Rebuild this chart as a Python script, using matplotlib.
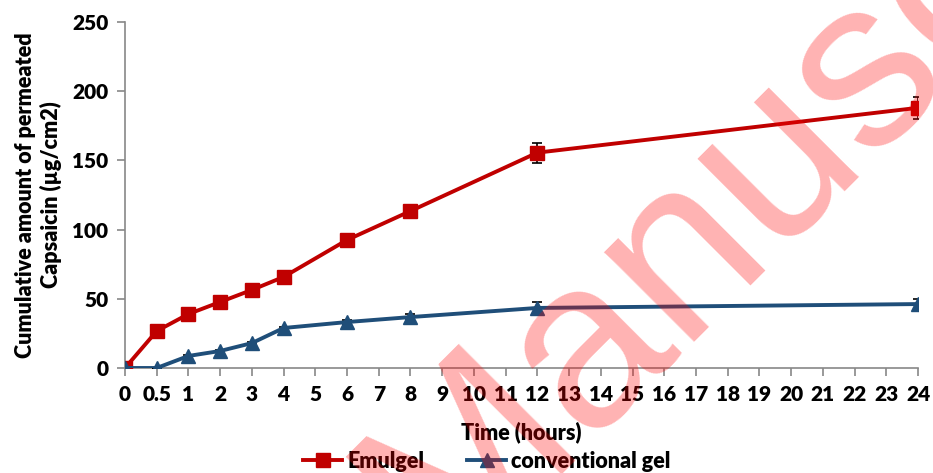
import matplotlib
matplotlib.use("Agg")
import matplotlib.pyplot as plt
from matplotlib.lines import Line2D

categories = ["0", "0.5", "1", "2", "3", "4", "5", "6", "7", "8", "9", "10", "11", "12",
              "13", "14", "15", "16", "17", "18", "19", "20", "21", "22", "23", "24"]
time_points = ["0", "0.5", "1", "2", "3", "4", "6", "8", "12", "24"]
emulgel = [0, 26.7, 39, 47.7, 56.4, 65.8, 92.5, 113.4, 155.6, 188]
emulgel_err = [0, 1.5, 1.5, 1.5, 1.5, 1.5, 3.5, 4.5, 7.3, 8]
conv_gel = [0, 0, 8.7, 12.3, 18, 28.9, 33.2, 36.8, 43.4, 46.2]
conv_err = [0, 0, 1, 1, 1, 1, 1.5, 2, 4.5, 4]

plt.rcParams['font.family'] = ['Lato', 'DejaVu Sans']

W, H = 933, 473
fig = plt.figure(figsize=(W/100, H/100), dpi=100)
ax = fig.add_axes([125/W, 1-368/H, (918-125)/W, (368-22)/H])

x = [categories.index(t) for t in time_points]

red = '#C00000'
blue = '#1F4E79'
FW = 'heavy'

ax.errorbar(x, emulgel, yerr=emulgel_err, color=red, lw=2.8, marker='s', ms=9.5,
            ecolor='black', elinewidth=1.2, capsize=3.5, capthick=1.2, zorder=3)
ax.errorbar(x, conv_gel, yerr=conv_err, color=blue, lw=2.8, marker='^', ms=9.5,
            ecolor='black', elinewidth=1.2, capsize=3.5, capthick=1.2, zorder=3)

ax.set_xlim(0, len(categories)-1)
ax.set_ylim(0, 250)
ax.set_xticks(range(len(categories)))
ax.set_xticklabels(categories)
ax.set_yticks([0, 50, 100, 150, 200, 250])
for s in ['top', 'right']:
    ax.spines[s].set_visible(False)
for s in ['left', 'bottom']:
    ax.spines[s].set_color('#888888')
    ax.spines[s].set_linewidth(1.2)
ax.tick_params(axis='both', colors='#888888', labelcolor='black', labelsize=15,
               length=6, width=1.2)
for lab in ax.get_xticklabels() + ax.get_yticklabels():
    lab.set_fontweight(FW)
ax.tick_params(axis='x', pad=6)
ax.tick_params(axis='y', pad=6)
ax.set_xlabel('Time (hours)', fontsize=15.5, fontweight=FW, labelpad=13)
ax.set_ylabel('Cumulative amount of permeated\nCapsaicin (µg/cm2)', fontsize=15.5,
              fontweight=FW, labelpad=7, linespacing=1.25)

handles = [Line2D([], [], color=red, lw=2.8, marker='s', ms=9.5),
           Line2D([], [], color=blue, lw=2.8, marker='^', ms=9.5)]
fig.legend(handles, ['Emulgel', 'conventional gel'], loc='center',
           bbox_to_anchor=(487/W, 1-461/H), ncol=2, frameon=False,
           prop={'size': 15.5, 'weight': FW}, handlelength=1.8,
           columnspacing=2.0, handletextpad=0.25, borderpad=0, borderaxespad=0)

# semi-transparent watermark drawn over the chart
fig.text(443/W, 1-574/H, "Manuscript", fontsize=172, color='red', alpha=0.3,
         rotation=45, rotation_mode='anchor', ha='left', va='baseline',
         family='Liberation Sans', fontweight='normal', zorder=10)

fig.savefig('out.png', dpi=100)
